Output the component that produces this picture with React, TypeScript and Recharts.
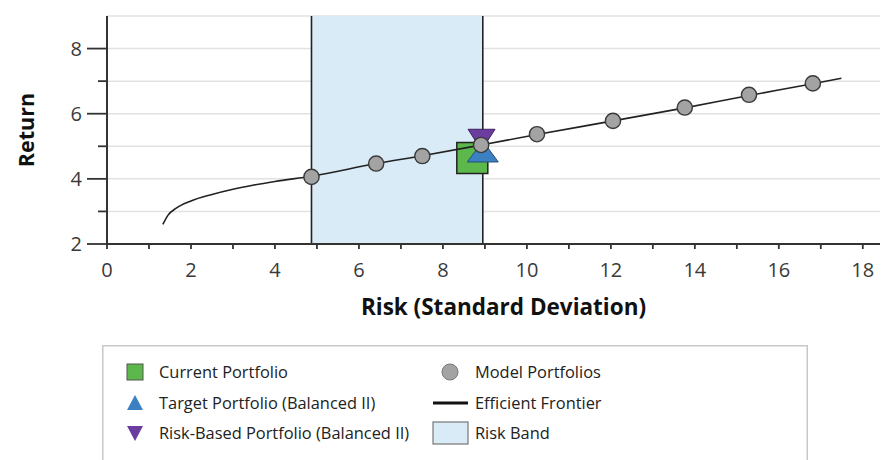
import React from 'react';
import {
  ComposedChart,
  Line,
  Scatter,
  XAxis,
  YAxis,
  CartesianGrid,
  ReferenceArea,
  ReferenceLine,
} from 'recharts';

// ---------- data ----------
const frontierRisk = [1.33, 1.45, 1.65, 2.0, 2.5, 3.0, 3.5, 4.0, 4.87, 6.41, 7.51, 8.91, 10.24, 12.05, 13.76, 15.29, 16.81, 17.49];
const frontierReturn = [2.6, 2.88, 3.1, 3.32, 3.52, 3.68, 3.81, 3.92, 4.08, 4.47, 4.71, 5.04, 5.36, 5.78, 6.18, 6.56, 6.92, 7.09];

const modelRisk = [4.87, 6.41, 7.51, 8.91, 10.24, 12.05, 13.76, 15.29, 16.81];
const modelReturn = [4.06, 4.47, 4.7, 5.04, 5.37, 5.78, 6.19, 6.58, 6.93];

const currentPortfolio = { x: 8.7, y: 4.64 };
const targetPortfolio = { x: 8.95, y: 4.84 };
const riskBasedPortfolio = { x: 8.92, y: 5.2 };

const riskBand = [4.87, 8.95];

const xTicks = [0, 1, 2, 3, 4, 5, 6, 7, 8, 9, 10, 11, 12, 13, 14, 15, 16, 17, 18];
const yTicks = [2, 3, 4, 5, 6, 7, 8, 9];
const xLabelled = [0, 2, 4, 6, 8, 10, 12, 14, 16, 18];
const yLabelled = [2, 4, 6, 8];

const legendLeft = ['Current Portfolio', 'Target Portfolio (Balanced II)', 'Risk-Based Portfolio (Balanced II)'];
const legendRight = ['Model Portfolios', 'Efficient Frontier', 'Risk Band'];

const frontierData = frontierRisk.map((x, i) => ({ x, y: frontierReturn[i] }));
const modelData = modelRisk.map((x, i) => ({ x, y: modelReturn[i] }));

// ---------- styles ----------
const FONT = '"Open Sans", "Noto Sans", sans-serif';
const GREEN = '#5cb84c';
const BLUE = '#3a80c3';
const PURPLE = '#6b3d9e';
const GRAY = '#a3a3a3';
const BAND = '#d9ebf7';
const AXIS = '#333333';
const TEXT = '#3a3a3a';
const TICK_FS = 20;
const TITLE_FS = 21.5;
const XTITLE_FS = 22.5;
const LEGEND_FS = 16.4;

const Y_TICK_SIZE = 20;
const Y_TICK_MARGIN = 5;

const SquareShape = (p: any) => {
  const s = 31;
  return <rect x={p.cx - s / 2} y={p.cy - s / 2} width={s} height={s} fill={GREEN} stroke="#222" strokeWidth={1.5} />;
};
const TriUpShape = (p: any) => {
  const w = 31, h = 21;
  return (
    <path
      d={`M${p.cx},${p.cy - h / 2} L${p.cx + w / 2},${p.cy + h / 2} L${p.cx - w / 2},${p.cy + h / 2} Z`}
      fill={BLUE}
      stroke="#2a4f73"
      strokeWidth={1}
    />
  );
};
const TriDownShape = (p: any) => {
  const w = 27, h = 21;
  return (
    <path
      d={`M${p.cx - w / 2},${p.cy - h / 2} L${p.cx + w / 2},${p.cy - h / 2} L${p.cx},${p.cy + h / 2} Z`}
      fill={PURPLE}
      stroke="#3d2260"
      strokeWidth={1}
    />
  );
};
const CircleShape = (p: any) => (
  <circle cx={p.cx} cy={p.cy} r={7.6} fill={GRAY} stroke="#3a3a3a" strokeWidth={1.4} />
);

const YTick = (p: any) => {
  const v = p.payload.value;
  const axisX = p.x + Y_TICK_SIZE + Y_TICK_MARGIN;
  const major = yLabelled.includes(v);
  if (v === 9) return null;
  return (
    <g>
      <line x1={axisX - (major ? Y_TICK_SIZE : 9)} x2={axisX} y1={p.y} y2={p.y} stroke={AXIS} strokeWidth={1.8} />
      {major && (
        <text x={p.x} y={p.y} dy="0.36em" textAnchor="end" fontSize={TICK_FS} fontFamily={FONT} fill={TEXT}>
          {v}
        </text>
      )}
    </g>
  );
};

const YLabel = (p: any) => {
  const vb = p.viewBox;
  const cx = 17;
  const cy = vb.y + vb.height / 2;
  return (
    <text
      x={cx}
      y={cy}
      transform={`rotate(-90, ${cx}, ${cy})`}
      textAnchor="middle"
      dominantBaseline="central"
      fontSize={TITLE_FS}
      fontWeight={700}
      fontFamily={FONT}
      fill="#111"
    >
      Return
    </text>
  );
};

const XLabel = (p: any) => {
  const vb = p.viewBox;
  return (
    <text
      x={vb.x + vb.width / 2 + 6}
      y={vb.y + 62}
      textAnchor="middle"
      dominantBaseline="central"
      fontSize={XTITLE_FS}
      fontWeight={700}
      fontFamily={FONT}
      fill="#111"
    >
      Risk (Standard Deviation)
    </text>
  );
};

const Legend = () => {
  const rows = [27, 58, 88];
  const c1 = 33;
  const t1 = 57;
  const c2x = 331;
  const t2 = 373;
  return (
    <svg
      width={706}
      height={120}
      style={{ position: 'absolute', left: 94, top: 337, overflow: 'visible' }}
    >
      <rect x={0.75} y={0.75} width={704.5} height={130} fill="#fff" stroke="#c8c8c8" strokeWidth={1.5} />
      {/* left column icons */}
      <rect x={c1 - 8} y={rows[0] - 8} width={16} height={16} fill={GREEN} stroke="#555" strokeWidth={1} />
      <path d={`M${c1},${rows[1] - 8} L${c1 + 8},${rows[1] + 7} L${c1 - 8},${rows[1] + 7} Z`} fill={BLUE} />
      <path d={`M${c1 - 8},${rows[2] - 7} L${c1 + 8},${rows[2] - 7} L${c1},${rows[2] + 8} Z`} fill={PURPLE} />
      {legendLeft.map((t, i) => (
        <text key={t} x={t1} y={rows[i]} dy="0.35em" fontSize={LEGEND_FS} fontFamily={FONT} fill="#222">
          {t}
        </text>
      ))}
      {/* right column icons */}
      <circle cx={c2x + 17} cy={rows[0]} r={8} fill={GRAY} stroke="#777" strokeWidth={1} />
      <line x1={c2x} x2={c2x + 35} y1={rows[1]} y2={rows[1]} stroke="#111" strokeWidth={3} />
      <rect x={c2x} y={rows[2] - 11} width={35} height={22} fill={BAND} stroke="#777" strokeWidth={1.2} />
      {legendRight.map((t, i) => (
        <text key={t} x={t2} y={rows[i]} dy="0.35em" fontSize={LEGEND_FS} fontFamily={FONT} fill="#222">
          {t}
        </text>
      ))}
    </svg>
  );
};

export default function App() {
  return (
    <div style={{ position: 'relative', width: 880, height: 452, fontFamily: FONT, overflow: 'hidden' }}>
      <ComposedChart width={880} height={330} margin={{ top: 8, right: 0, bottom: 14, left: 0 }}>
        <CartesianGrid horizontal vertical={false} stroke="#e2e2e2" strokeWidth={1.5} />
        <ReferenceArea x1={riskBand[0]} x2={riskBand[1]} y1={2} y2={9} fill={BAND} fillOpacity={1} stroke="none" ifOverflow="hidden" />
        <ReferenceLine x={riskBand[0]} stroke="#222" strokeWidth={1.6} />
        <ReferenceLine x={riskBand[1]} stroke="#222" strokeWidth={1.6} />
        <XAxis
          type="number"
          dataKey="x"
          domain={[0, 18.6]}
          ticks={xTicks}
          interval={0}
          tickFormatter={(v: number) => (xLabelled.includes(v) ? String(v) : '')}
          tickSize={5}
          tickMargin={14}
          tickLine={{ stroke: AXIS, strokeWidth: 1.8 }}
          axisLine={{ stroke: AXIS, strokeWidth: 2 }}
          tick={{ fontSize: TICK_FS, fontFamily: FONT, fill: TEXT }}
          height={80}
          allowDataOverflow
          label={<XLabel />}
        />
        <YAxis
          type="number"
          dataKey="y"
          domain={[2, 9]}
          ticks={yTicks}
          interval={0}
          width={99}
          tickSize={Y_TICK_SIZE}
          tickMargin={Y_TICK_MARGIN}
          tickLine={false}
          axisLine={{ stroke: AXIS, strokeWidth: 2 }}
          tick={<YTick />}
          allowDataOverflow
          label={<YLabel />}
        />
        <Scatter data={[currentPortfolio]} dataKey="y" shape={SquareShape} isAnimationActive={false} zIndex={601} />
        <Scatter data={[targetPortfolio]} dataKey="y" shape={TriUpShape} isAnimationActive={false} zIndex={602} />
        <Scatter data={[riskBasedPortfolio]} dataKey="y" shape={TriDownShape} isAnimationActive={false} zIndex={603} />
        <Line
          data={frontierData}
          dataKey="y"
          type="monotone"
          stroke="#222"
          strokeWidth={1.6}
          dot={false}
          activeDot={false}
          isAnimationActive={false}
          zIndex={650}
        />
        <Scatter data={modelData} dataKey="y" shape={CircleShape} isAnimationActive={false} zIndex={700} />
      </ComposedChart>
      <Legend />
    </div>
  );
}
